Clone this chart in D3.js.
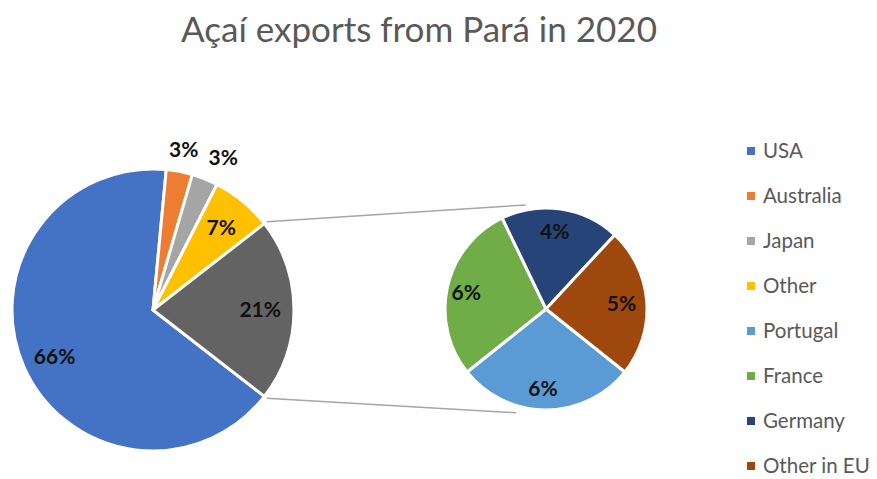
<!DOCTYPE html>
<html>
<head>
<meta charset="utf-8">
<script src="https://cdn.jsdelivr.net/npm/d3@7/dist/d3.min.js"></script>
<style>
  html, body { margin: 0; padding: 0; background: #ffffff; }
  svg { display: block; }
</style>
</head>
<body>
<svg id="chart" width="877" height="479"></svg>
<script>
// Açaí exports from Pará, 2020 — share of exports by destination (%)
const mainCategories = ["USA", "Australia", "Japan", "Other", "EU"];
const mainValues = [66, 3, 3, 7, 21];
const mainColors = ["#4472C4", "#ED7D31", "#A5A5A5", "#FFC000", "#636363"];

// Breakdown of the EU share, drawn in the secondary pie (clockwise from the bottom)
const euCategories = ["Portugal", "France", "Germany", "Other in EU"];
const euValues = [6, 6, 4, 5];
const euColors = ["#5B9BD5", "#70AD47", "#264478", "#9E480E"];

const legendLabels = ["USA", "Australia", "Japan", "Other", "Portugal", "France", "Germany", "Other in EU"];
const legendColors = ["#4472C4", "#ED7D31", "#A5A5A5", "#FFC000", "#5B9BD5", "#70AD47", "#264478", "#9E480E"];

const svg = d3.select("#chart");
const font = "Lato, 'Open Sans', sans-serif";

// Title
svg.append("text")
  .attr("x", 419).attr("y", 42)
  .attr("text-anchor", "middle")
  .attr("font-family", font)
  .attr("font-size", 35)
  .attr("fill", "#595959")
  .text("Açaí exports from Pará in 2020");

// ---- Main pie ----
const mainC = { x: 153, y: 310 }, mainR = 141;
const mainTotal = d3.sum(mainValues);
const euIndex = mainCategories.indexOf("EU");
// Rotate so the EU slice is centred on the right-hand side (3 o'clock)
const anglesBeforeEU = d3.sum(mainValues.slice(0, euIndex)) / mainTotal * 2 * Math.PI;
const euSpan = mainValues[euIndex] / mainTotal * 2 * Math.PI;
const mainStart = Math.PI / 2 - euSpan / 2 - anglesBeforeEU;

const mainPie = d3.pie().sort(null).value(d => d)
  .startAngle(mainStart).endAngle(mainStart + 2 * Math.PI);
const mainArcs = mainPie(mainValues);
const mainArc = d3.arc().innerRadius(0).outerRadius(mainR);

const gMain = svg.append("g").attr("transform", `translate(${mainC.x},${mainC.y})`);
gMain.selectAll("path").data(mainArcs).join("path")
  .attr("d", mainArc)
  .attr("fill", (d, i) => mainColors[i])
  .attr("stroke", "#ffffff")
  .attr("stroke-width", 3)
  .attr("stroke-linejoin", "round");

// ---- Secondary pie ----
const secC = { x: 546, y: 309 }, secR = 101;
const euTotal = d3.sum(euValues);
const firstSpan = euValues[0] / euTotal * 2 * Math.PI;
const secStart = Math.PI - firstSpan / 2; // first slice centred at the bottom
const secPie = d3.pie().sort(null).value(d => d)
  .startAngle(secStart).endAngle(secStart + 2 * Math.PI);
const secArcs = secPie(euValues);
const secArc = d3.arc().innerRadius(0).outerRadius(secR);

const gSec = svg.append("g").attr("transform", `translate(${secC.x},${secC.y})`);
gSec.selectAll("path").data(secArcs).join("path")
  .attr("d", secArc)
  .attr("fill", (d, i) => euColors[i])
  .attr("stroke", "#ffffff")
  .attr("stroke-width", 3)
  .attr("stroke-linejoin", "round");

// ---- Connector lines from the EU slice edges to the secondary pie ----
function polar(c, r, a) { return [c.x + r * Math.sin(a), c.y - r * Math.cos(a)]; }
const deg = Math.PI / 180;
const euArc = mainArcs[euIndex];
const pTop = polar(mainC, mainR + 3, euArc.startAngle);
const pBot = polar(mainC, mainR + 3, euArc.endAngle);
const tTop = polar(secC, secR + 5, -11 * deg);
const tBot = polar(secC, secR + 7, 196 * deg);
[[pTop, tTop], [pBot, tBot]].forEach(([a, b]) => {
  svg.append("line")
    .attr("x1", a[0]).attr("y1", a[1])
    .attr("x2", b[0]).attr("y2", b[1])
    .attr("stroke", "#A6A6A6")
    .attr("stroke-width", 1.5);
});

// ---- Data labels ----
const labelStyle = sel => sel
  .attr("font-family", font)
  .attr("font-size", 21)
  .attr("font-weight", "bold")
  .attr("fill", "#111111")
  .attr("text-anchor", "middle")
  .attr("dy", "0.35em");

// Thin slices get their labels outside the pie; Japan's is pushed right to clear Australia's
const outsideSlices = new Set(["Australia", "Japan"]);
const outsideNudge = { Australia: 0, Japan: 10 };
gMain.selectAll("text").data(mainArcs).join("text")
  .call(labelStyle)
  .attr("transform", (d, i) => {
    const name = mainCategories[i];
    const outside = outsideSlices.has(name);
    const f = outside ? 1.16 : 0.76;
    const a = (d.startAngle + d.endAngle) / 2;
    const nx = outside ? outsideNudge[name] : 0;
    const ny = name === "USA" ? 4 : 0;
    return `translate(${f * mainR * Math.sin(a) + nx},${-f * mainR * Math.cos(a) + ny})`;
  })
  .text(d => d.data + "%");

gSec.selectAll("text").data(secArcs).join("text")
  .call(labelStyle)
  .attr("transform", d => {
    const a = (d.startAngle + d.endAngle) / 2;
    const f = 0.78;
    return `translate(${f * secR * Math.sin(a) - 3},${-f * secR * Math.cos(a) + 1})`;
  })
  .text(d => d.data + "%");

// ---- Legend ----
const legendY = d3.scalePoint().domain(legendLabels).range([151, 466]);
const gLeg = svg.append("g");
const rows = gLeg.selectAll("g").data(legendLabels).join("g")
  .attr("transform", d => `translate(747,${legendY(d)})`);
rows.append("rect")
  .attr("x", 0).attr("y", -4).attr("width", 8).attr("height", 8)
  .attr("fill", (d, i) => legendColors[i]);
rows.append("text")
  .attr("x", 16).attr("y", 0)
  .attr("dy", "0.36em")
  .attr("font-family", font)
  .attr("font-size", 20.5)
  .attr("fill", "#595959")
  .text(d => d);
</script>
</body>
</html>
